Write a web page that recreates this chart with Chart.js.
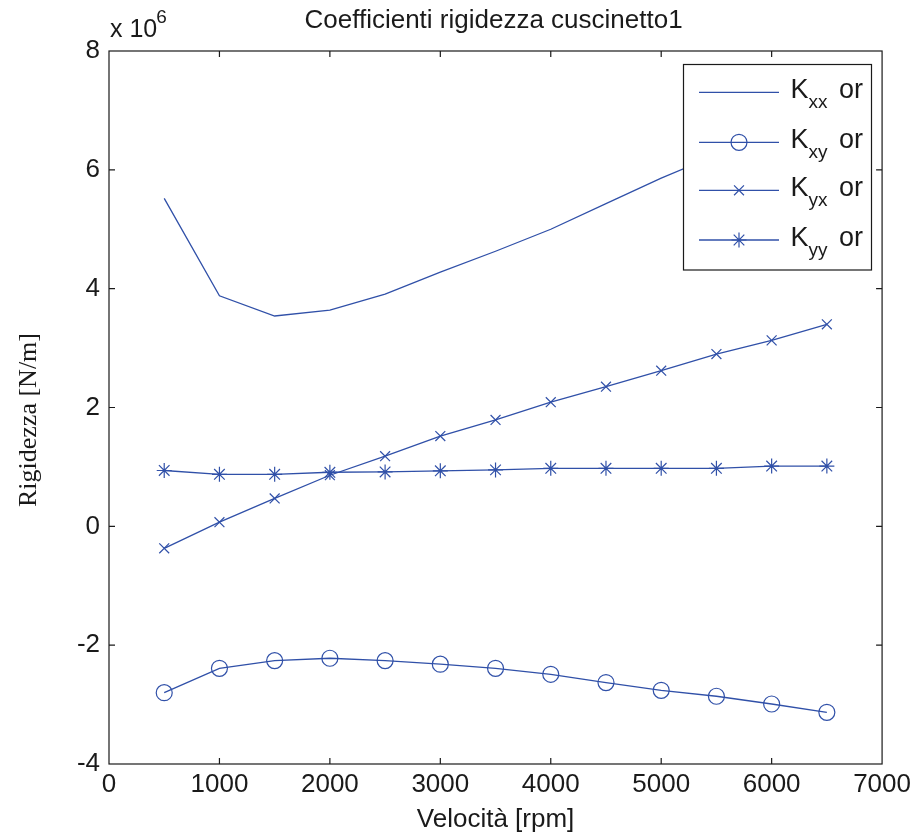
<!DOCTYPE html>
<html><head><meta charset="utf-8">
<script src="https://cdn.jsdelivr.net/npm/chart.js@4/dist/chart.umd.min.js"></script>
<style>html,body{margin:0;padding:0;background:#fff}canvas{display:block}</style>
</head><body>
<canvas id="c" width="916" height="836"></canvas>
<script>
// Data (values in units of 1e6 N/m)
const speeds = [500,1000,1500,2000,2500,3000,3500,4000,4500,5000,5500,6000,6500];
const kxx = [5.52,3.88,3.54,3.64,3.91,4.28,4.63,5.00,5.43,5.86,6.25,6.68,7.10];
const kxy = [-2.80,-2.39,-2.26,-2.22,-2.26,-2.32,-2.39,-2.49,-2.63,-2.76,-2.86,-2.99,-3.13];
const kyx = [-0.37,0.07,0.47,0.86,1.18,1.52,1.79,2.09,2.35,2.62,2.90,3.13,3.40];
const kyy = [0.94,0.875,0.875,0.91,0.915,0.935,0.95,0.976,0.976,0.976,0.976,1.015,1.015];
const xTickLabels = ['0','1000','2000','3000','4000','5000','6000','7000'];
const yTickLabels = ['-4','-2','0','2','4','6','8'];
const legendMain = 'K';
const legendSubs = ['xx','xy','yx','yy'];
const legendSuffix = 'or';
const titleText = 'Coefficienti rigidezza cuscinetto1';
const xTitle = 'Velocità [rpm]';
const yTitle = 'Rigidezza [N/m]';
const exponentText = ['x 10','6'];

const BLUE = '#3050a8';
const INK = '#1a1a1a';
const SANS = '"Liberation Sans", Arial, sans-serif';
const SERIF = '"Liberation Serif", "Times New Roman", serif';
const pts = arr => speeds.map((s,i)=>({x:s,y:arr[i]}));

const styles = [
  {pointStyle:false, radius:0},
  {pointStyle:'circle', radius:8},
  {pointStyle:'crossRot', radius:7},
  {pointStyle:'star', radius:7.5}
];
const series = [kxx,kxy,kyx,kyy];

const datasets = series.map((arr,i)=>({
  label: legendMain + legendSubs[i] + ' ' + legendSuffix,
  data: pts(arr),
  borderColor: BLUE,
  backgroundColor: 'rgba(0,0,0,0)',
  borderWidth: 1.3,
  pointStyle: styles[i].pointStyle,
  pointRadius: styles[i].radius,
  pointBorderWidth: 1.2,
  pointBorderColor: BLUE,
  pointBackgroundColor: 'rgba(0,0,0,0)',
  tension: 0
}));

const framePlugin = {
  id: 'frame',
  afterDatasetsDraw(chart) {
    const {ctx, chartArea:a, scales:{x,y}} = chart;
    ctx.save();
    ctx.strokeStyle = INK;
    ctx.lineWidth = 1.2;
    ctx.strokeRect(a.left, a.top, a.right-a.left, a.bottom-a.top);
    const tl = 6;
    ctx.beginPath();
    x.ticks.forEach(t=>{
      const px = x.getPixelForValue(t.value);
      if (px <= a.left+1 || px >= a.right-1) return;
      ctx.moveTo(px, a.bottom); ctx.lineTo(px, a.bottom-tl);
      ctx.moveTo(px, a.top); ctx.lineTo(px, a.top+tl);
    });
    y.ticks.forEach(t=>{
      const py = y.getPixelForValue(t.value);
      if (py <= a.top+1 || py >= a.bottom-1) return;
      ctx.moveTo(a.left, py); ctx.lineTo(a.left+tl, py);
      ctx.moveTo(a.right, py); ctx.lineTo(a.right-tl, py);
    });
    ctx.stroke();
    ctx.restore();
  },
  afterDraw(chart) {
    const {ctx, chartArea:a} = chart;
    ctx.save();
    // title
    ctx.fillStyle = INK;
    ctx.font = '26px ' + SANS;
    ctx.textAlign = 'center';
    ctx.textBaseline = 'alphabetic';
    ctx.fillText(titleText, (a.left+a.right)/2 - 2, 28);
    // y title
    ctx.save();
    ctx.translate(29, 420);
    ctx.rotate(-Math.PI/2);
    ctx.font = '26px ' + SERIF;
    ctx.textBaseline = 'middle';
    ctx.fillText(yTitle, 0, 0);
    ctx.restore();
    // exponent
    ctx.font = '25px ' + SANS;
    ctx.textAlign = 'left';
    ctx.fillText(exponentText[0], a.left + 1, 37);
    const w = ctx.measureText(exponentText[0]).width;
    ctx.font = '19px ' + SANS;
    ctx.fillText(exponentText[1], a.left + w, 23);

    // legend box
    const bx = 683.5, by = 64.5, bw = 188, bh = 205.5;
    ctx.fillStyle = '#fff';
    ctx.fillRect(bx, by, bw, bh);
    ctx.strokeStyle = INK;
    ctx.lineWidth = 1.2;
    ctx.strokeRect(bx, by, bw, bh);
    const rows = [92.3, 142.3, 190.3, 240];
    rows.forEach((ry, i) => {
      ctx.strokeStyle = BLUE;
      ctx.lineWidth = 1.3;
      ctx.beginPath();
      ctx.moveTo(699, ry); ctx.lineTo(779, ry);
      ctx.stroke();
      if (styles[i].pointStyle) {
        ctx.fillStyle = 'rgba(0,0,0,0)';
        ctx.lineWidth = 1.2;
        Chart.helpers.drawPoint(ctx, {pointStyle: styles[i].pointStyle, radius: styles[i].radius, borderWidth: 1.2, rotation: 0}, 739, ry);
      }
      ctx.fillStyle = INK;
      ctx.font = '27px ' + SANS;
      ctx.textAlign = 'left';
      ctx.fillText(legendMain, 790.5, ry + 5.5);
      const kw = ctx.measureText(legendMain).width;
      ctx.font = '19px ' + SANS;
      ctx.fillText(legendSubs[i], 790.5 + kw, ry + 15.5);
      ctx.font = '27px ' + SANS;
      ctx.fillText(legendSuffix, 839, ry + 5.5);
    });
    ctx.restore();
  }
};

new Chart(document.getElementById('c'), {
  type: 'line',
  data: { datasets },
  options: {
    responsive: false,
    animation: false,
    devicePixelRatio: 1,
    layout: { padding: { top: 51, right: 32, left: 0, bottom: 0 } },
    plugins: { legend: { display: false }, title: { display: false }, tooltip: { enabled: false } },
    scales: {
      x: {
        type: 'linear', min: 0, max: 7000,
        afterFit: s => { s.height = 72; },
        afterBuildTicks: s => { s.ticks = xTickLabels.map(v => ({value: Number(v)})); },
        ticks: { callback: (v) => String(v), font: { size: 26, family: SANS }, color: INK, padding: 5, maxRotation: 0, autoSkip: false },
        grid: { display: false, drawTicks: false },
        border: { display: false },
        title: { display: true, text: xTitle, font: { size: 26, family: SANS }, color: INK, padding: { top: 0, bottom: 1 } }
      },
      y: {
        type: 'linear', min: -4, max: 8,
        afterFit: s => { s.width = 109; },
        afterBuildTicks: s => { s.ticks = yTickLabels.map(v => ({value: Number(v)})); },
        ticks: { callback: (v) => String(v), font: { size: 26, family: SANS }, color: INK, padding: 9, autoSkip: false },
        grid: { display: false, drawTicks: false },
        border: { display: false },
        title: { display: false }
      }
    }
  },
  plugins: [framePlugin]
});
</script>
</body></html>
